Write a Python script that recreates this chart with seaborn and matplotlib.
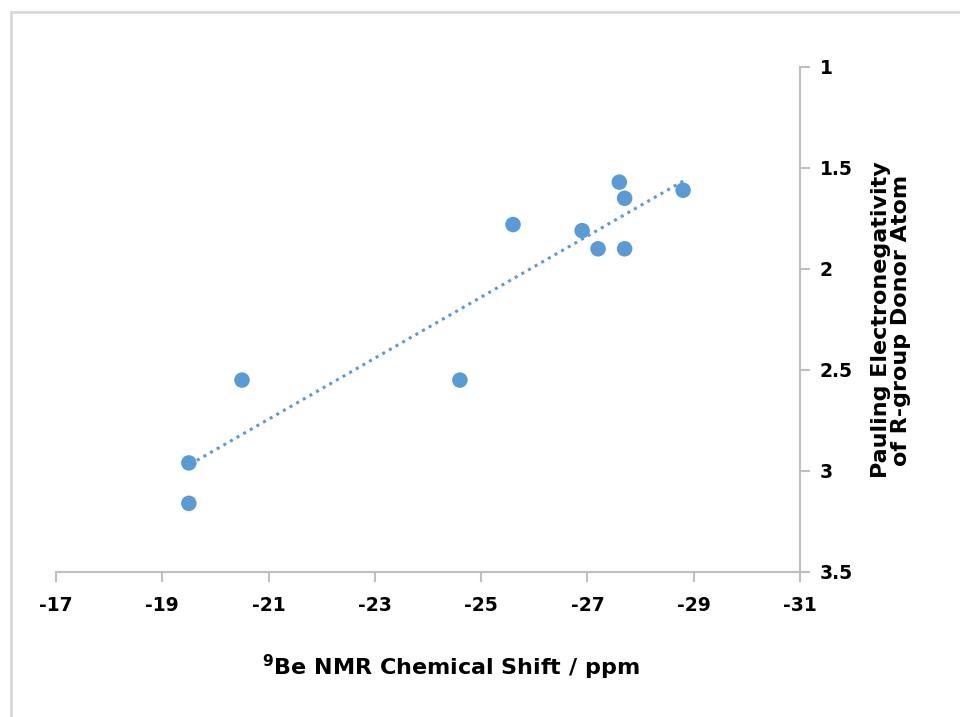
import numpy as np
import pandas as pd
import matplotlib
matplotlib.use("Agg")
import matplotlib.pyplot as plt
import seaborn as sns
from matplotlib.lines import Line2D

# Data
shift_ppm = [-19.5, -19.5, -20.5, -24.6, -25.6, -26.9, -27.2, -27.7, -27.6, -27.7, -28.8]
electroneg = [2.96, 3.16, 2.55, 2.55, 1.78, 1.81, 1.90, 1.90, 1.57, 1.65, 1.61]
x_ticks = [-17, -19, -21, -23, -25, -27, -29, -31]
y_ticks = [1, 1.5, 2, 2.5, 3, 3.5]
y_tick_labels = ["1", "1.5", "2", "2.5", "3", "3.5"]

df = pd.DataFrame({"shift": shift_ppm, "en": electroneg})

sns.set_theme(style="white")
plt.rcParams['font.family'] = ['DejaVu Sans']
plt.rcParams['mathtext.fontset'] = 'dejavusans'
plt.rcParams['text.color'] = 'black'

color = "#5B9BD5"
fig = plt.figure(figsize=(9.6, 7.17), dpi=100)
ax = fig.add_axes([56/960, 1 - 572/717, (800 - 56)/960, (572 - 67)/717])

sns.regplot(data=df, x="shift", y="en", scatter=False, ci=None, ax=ax,
            line_kws=dict(color=color, linestyle=(0, (1, 1.5)), linewidth=2.2))
sns.scatterplot(data=df, x="shift", y="en", ax=ax, color=color, s=125,
                edgecolor="none", zorder=3)

ax.set_xlim(-17, -31)
ax.set_ylim(3.5, 1)
ax.set_xticks(x_ticks)
ax.set_xticklabels([str(t) for t in x_ticks])
ax.set_yticks(y_ticks)
ax.set_yticklabels(y_tick_labels)

ax.yaxis.tick_right()
for s in ["top", "left"]:
    ax.spines[s].set_visible(False)
for s in ["bottom", "right"]:
    ax.spines[s].set_color("#BFBFBF")
    ax.spines[s].set_linewidth(1.5)
ax.tick_params(axis="both", which="major", direction="out", length=7, width=1.5,
               color="#BFBFBF", labelsize=13.5)
ax.tick_params(axis="x", bottom=True, pad=10)
ax.tick_params(axis="y", right=True, left=False, pad=7)
for lab in ax.get_xticklabels() + ax.get_yticklabels():
    lab.set_fontweight("bold")
    lab.set_color("black")

ax.set_xlabel("")
ax.set_ylabel("")
fig.text(451/960, 1 - 667/717, r"$^{\mathbf{9}}$Be NMR Chemical Shift / ppm",
         ha="center", va="center", fontsize=16, fontweight="bold", color="black")
fig.text(891/960, 1 - 320/717, "Pauling Electronegativity\nof R-group Donor Atom",
         ha="center", va="center", rotation=90, fontsize=16, fontweight="bold",
         linespacing=1.0, color="black")

# light frame around the chart area
fig.add_artist(Line2D([11/960, 11/960], [0, 1 - 12/717], transform=fig.transFigure,
                      color="#D9D9D9", linewidth=2))
fig.add_artist(Line2D([11/960, 1], [1 - 12/717, 1 - 12/717], transform=fig.transFigure,
                      color="#D9D9D9", linewidth=2))

fig.savefig("out.png", dpi=100, facecolor="white")
